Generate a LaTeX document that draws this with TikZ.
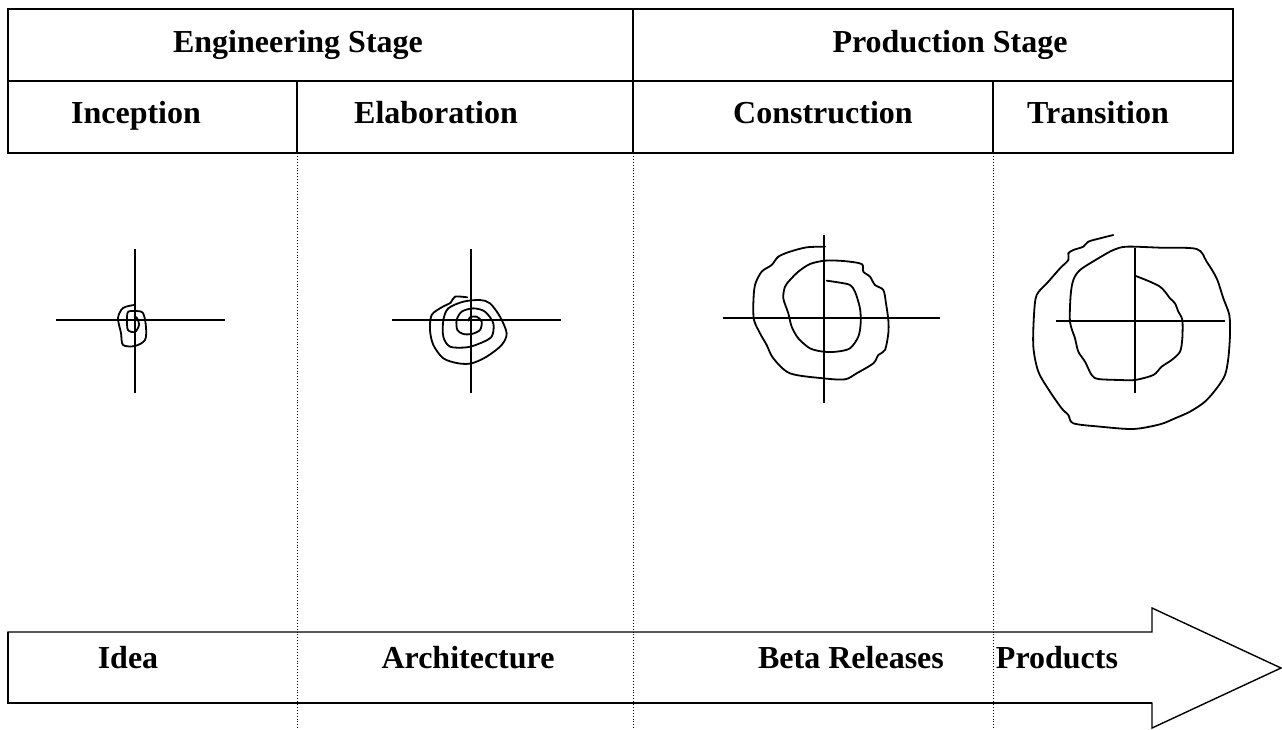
\documentclass[tikz,border=0pt]{standalone}
\usepackage{fontspec}
\setmainfont{Liberation Serif}
\begin{document}
\begin{tikzpicture}[x=1pt,y=-1pt,
  lbl/.style={font=\bfseries\fontsize{32}{36}\selectfont, inner sep=0pt, anchor=base},
  frame/.style={line width=1.6pt},
  guide/.style={line width=0.9pt, dotted},
  axis/.style={line width=1.8pt},
  curl/.style={line width=1.8pt, line join=round, line cap=round}]
\useasboundingbox (0,0) rectangle (1282,729);
% table
\draw[frame] (8,9) rectangle (1233,153);
\draw[frame] (8,81) -- (1233,81);
\draw[frame] (633,9) -- (633,153);
\draw[frame] (297,81) -- (297,153);
\draw[frame] (993,81) -- (993,153);
\node[lbl] (eng) at (298,52) {Engineering Stage};
\node[lbl] (prod) at (950,52) {Production Stage};
\node[lbl] (inc) at (136,123) {Inception};
\node[lbl] (ela) at (436,123) {Elaboration};
\node[lbl] (con) at (823,123) {Construction};
\node[lbl] (tra) at (1098,123) {Transition};
% dotted guides
\foreach \x/\n in {297/a,633/b,993/c}{
  \coordinate (g\n1) at (\x,153);
  \coordinate (g\n2) at (\x,729);
  \draw[guide] (g\n1) -- (g\n2);
}
% arrow
\draw[frame, line width=1.4pt] (8,632) -- (1152,632) -- (1152,608) -- (1281,668) -- (1152,728) -- (1152,703) -- (8,703) -- cycle;
\draw[frame, line width=1.8pt] (8,632) -- (8,703) -- (1152,703);
\node[lbl] (idea) at (128,668) {Idea};
\node[lbl] (arch) at (468,668) {Architecture};
\node[lbl] (beta) at (851,668) {Beta Releases};
\node[lbl] (prodc) at (1057,668) {Products};
% spiral 1
\draw[axis] (56,320) -- (225,320);
\draw[axis] (135,249) -- (135,393);
\draw[curl] plot[smooth] coordinates {(134,305) (123,308) (118,318) (121,333) (123,345) (135,346) (145,340) (146,327) (143,313) (135,311) (128,312) (127,320) (128,330) (135,332) (139,325) (137,318) (135,317)};
% spiral 2
\draw[axis] (392,320) -- (561,320);
\draw[axis] (471,249) -- (471,393);
\begin{scope}[shift={(380,230)}, x=0.3333pt, y=-0.3333pt]
\draw[curl] plot[smooth, tension=0.5] coordinates {(262,202) (225,200) (212,218) (185,232) (155,255) (150,300) (160,345) (190,385) (235,400) (275,400) (320,380) (365,345) (380,310) (360,260) (330,220) (300,210) (250,215) (205,235) (190,270) (190,320) (210,350) (260,352) (300,340) (335,320) (340,280) (315,245) (280,235) (245,245) (230,270) (232,300) (250,312) (275,312) (300,300) (305,275) (290,260) (270,262) (265,272)};
\end{scope}
% spiral 3
\draw[axis] (723,318) -- (940,318);
\draw[axis] (824,235) -- (824,403);
\begin{scope}[shift={(710,220)}, x=0.3333pt, y=-0.3333pt]
\draw[curl] plot[smooth, tension=0.5] coordinates {(345,80) (290,82) (240,95) (205,110) (185,135) (155,155) (135,195) (130,250) (132,300) (150,340) (170,375) (190,415) (240,460) (340,475) (405,478) (440,460) (490,430) (505,405) (525,390) (535,340) (535,300) (528,250) (520,210) (495,195) (480,170) (460,155) (455,132) (400,123) (345,122) (300,132) (265,155) (240,180) (225,200) (220,235) (235,280) (245,320) (265,355) (300,385) (340,395) (380,395) (420,385) (445,350) (452,310) (450,265) (435,215) (420,195) (390,188) (350,182)};
\end{scope}
% spiral 4
\draw[axis] (1056,321) -- (1225,321);
\draw[axis] (1135,248) -- (1135,393);
\begin{scope}[shift={(1020,225)}, x=0.3333pt, y=-0.3333pt]
\draw[curl] plot[smooth, tension=0.5] coordinates {(280,30) (240,40) (205,50) (190,65) (160,75) (145,85) (145,105) (120,130) (85,170) (50,210) (42,270) (40,365) (55,440) (90,500) (125,550) (145,570) (160,595) (240,605) (340,612) (420,598) (465,580) (510,560) (555,530) (590,490) (615,450) (625,400) (630,330) (628,270) (610,220) (590,160) (560,110) (530,72) (420,68) (320,65) (280,75) (235,100) (180,135) (160,165) (152,210) (150,290) (165,340) (175,380) (195,410) (215,450) (235,462) (300,465) (345,465) (400,450) (425,425) (455,405) (480,380) (487,340) (487,285) (475,260) (465,235) (450,220) (435,200) (420,185) (390,170) (345,152)};
\end{scope}
\end{tikzpicture}
\end{document}
